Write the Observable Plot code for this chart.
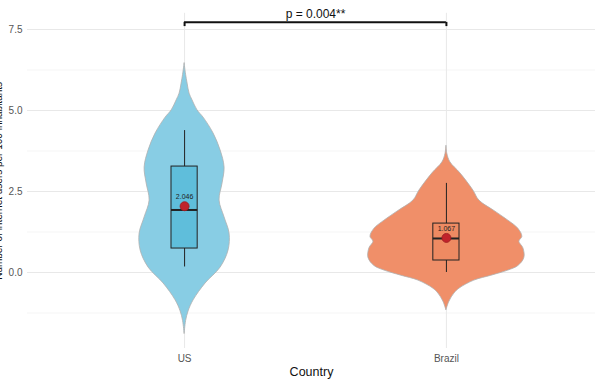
<!DOCTYPE html>
<html><head><meta charset="utf-8">
<script src="https://cdn.jsdelivr.net/npm/d3@7"></script>
<script src="https://cdn.jsdelivr.net/npm/@observablehq/plot@0.6"></script>
<style>body{margin:0;background:#fff;font-family:"Liberation Sans",Arial,sans-serif}</style>
</head><body><div id="chart"></div>
<script>
const countries = ["US", "Brazil"];
const colors = ["#88CDE4", "#F08F69"];
const boxColors = ["#5FBEDB", "#EE8A62"];
const means = [2.046, 1.067];
const q1 = [0.74, 0.37];
const medians = [1.93, 1.05];
const q3 = [3.27, 1.51];
const whiskerLow = [0.17, 0.0];
const whiskerHigh = [4.38, 2.75];
// violin profiles: y value and half-width (in px-equivalent)
const usY = [6.45, 6.1, 5.83, 5.52, 5.31, 5.0, 4.78, 4.29, 3.77, 3.24, 2.75, 2.22, 1.70, 1.20, 0.68, 0.15, -0.34, -0.86, -1.2, -1.5, -1.9];
const usW = [0, 1.5, 3, 5, 8, 13, 19, 29, 36, 40, 38, 35, 40, 45, 44, 36, 21, 9, 4, 1.5, 0];
const brY = [3.9, 3.65, 3.4, 3.06, 2.53, 2.22, 1.9, 1.6, 1.35, 1.1, 0.95, 0.75, 0.45, 0.2, 0.06, -0.1, -0.25, -0.5, -0.65, -0.9, -1.17];
const brW = [0, 1, 4, 14, 27, 33, 48, 62, 72, 76, 73, 77, 78, 72, 62, 45, 28, 13, 8, 3, 0];
const pLabel = "p = 0.004**";
const bracketY = 7.72;
const yTicks = [0, 2.5, 5, 7.5];
const yMinor = [-1.25, 1.25, 3.75, 6.25];
const yLabel = "Number of internet users per 100 inhabitants";

const pxPerUnit = 262;
const violin = [];
usY.forEach((y, i) => violin.push({c: 0, y, w: usW[i] / pxPerUnit}));
brY.forEach((y, i) => violin.push({c: 1, y, w: brW[i] / pxPerUnit}));
const boxes = countries.map((name, i) => ({
  i, x: i + 1, name, mean: means[i], q1: q1[i], med: medians[i], q3: q3[i], lo: whiskerLow[i], hi: whiskerHigh[i]
}));
const bw = 0.05;

const chart = Plot.plot({
  width: 595, height: 386,
  marginLeft: 27, marginRight: 0, marginTop: 12.8, marginBottom: 38,
  style: {fontFamily: "Liberation Sans, Arial, sans-serif", background: "#fff"},
  x: {domain: [0.4, 2.6], range: [27, 603]},
  y: {domain: [-2.3457, 8]},
  marks: [
    Plot.ruleY(yMinor, {stroke: "#f3f3f3", strokeWidth: 0.8}),
    Plot.ruleY(yTicks, {stroke: "#e8e8e8", strokeWidth: 1}),
    Plot.ruleX([1, 2], {stroke: "#e8e8e8", strokeWidth: 1}),
    ...[0, 1].map(c => Plot.areaX(violin.filter(d => d.c === c), {
      y: "y", x1: d => c + 1 - d.w, x2: d => c + 1 + d.w,
      fill: colors[c], stroke: "#b0b0b0", strokeWidth: 0.8, curve: "catmull-rom"
    })),
    Plot.ruleX(boxes, {x: "x", y1: "lo", y2: "hi", stroke: "#222", strokeWidth: 1}),
    Plot.rect(boxes, {x1: d => d.x - bw, x2: d => d.x + bw, y1: "q1", y2: "q3", fill: d => boxColors[d.i], stroke: "#222", strokeWidth: 1}),
    Plot.ruleY(boxes, {y: "med", x1: d => d.x - bw, x2: d => d.x + bw, stroke: "#222", strokeWidth: 2}),
    Plot.dot(boxes, {x: "x", y: "mean", r: 4.5, fill: "#C0232B", stroke: "#9a1a20", strokeWidth: 0.8}),
    Plot.text(boxes, {x: "x", y: "mean", text: d => d.mean.toFixed(3), dy: -9, fontSize: 7, fill: "#222"}),
    Plot.ruleY([bracketY], {x1: 1, x2: 2, stroke: "#111", strokeWidth: 2}),
    Plot.ruleX([1, 2], {y1: bracketY - 0.13, y2: bracketY, stroke: "#111", strokeWidth: 2}),
    Plot.text([pLabel], {x: 1.5, y: bracketY, dy: -8, fontSize: 12, fill: "#111"}),
    Plot.axisY(yTicks, {tickSize: 0, tickPadding: 5, tickFormat: d => d.toFixed(1), fontSize: 10, color: "#555", label: null}),
    Plot.axisX([1, 2], {tickSize: 0, tickPadding: 6, tickFormat: d => countries[d - 1], fontSize: 10, color: "#555", label: null}),
    Plot.text(["Country"], {frameAnchor: "bottom", dy: 27, fontSize: 12.5, fill: "#111"}),
    Plot.text([yLabel], {frameAnchor: "left", textAnchor: "middle", dx: -29, rotate: -90, fontSize: 10, fill: "#111"})
  ]
});
document.getElementById("chart").append(chart);
</script>
</body></html>
